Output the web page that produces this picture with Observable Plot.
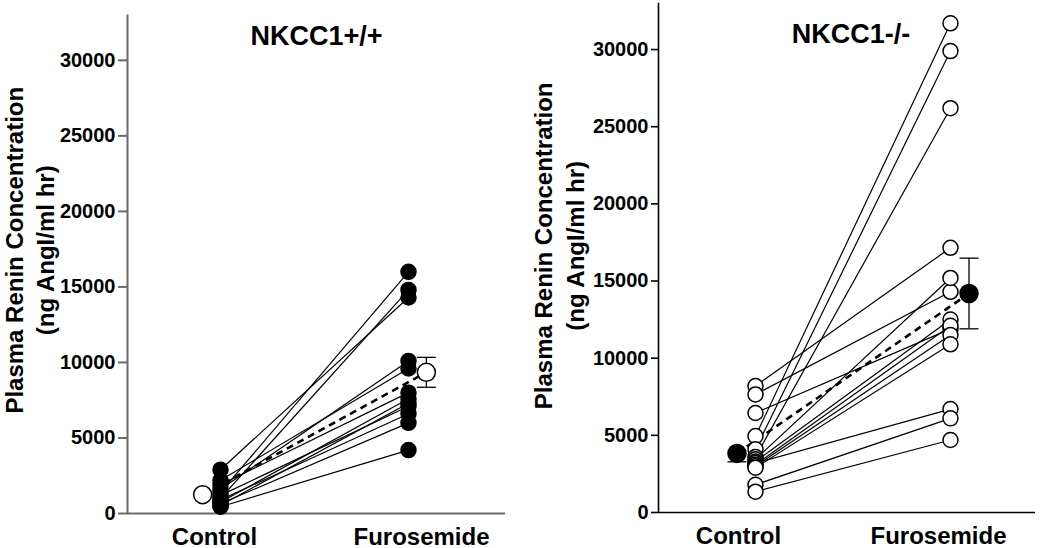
<!DOCTYPE html>
<html>
<head>
<meta charset="utf-8">
<script src="https://cdn.jsdelivr.net/npm/d3@7"></script>
<script src="https://cdn.jsdelivr.net/npm/@observablehq/plot@0.6"></script>
<style>
  html, body { margin: 0; padding: 0; background: white; overflow: hidden; }
  #chart { display: flex; width: 1050px; height: 548px; }
  #chart svg { display: block; }
  #chart svg text { font-weight: bold; }
</style>
</head>
<body>
<div id="chart"></div>
<script>
// ---- data ----
const categories = ["Control", "Furosemide"];
const panelTitles = ["NKCC1+/+", "NKCC1-/-"];
const yTitleLines = ["Plasma Renin Concentration", "(ng AngI/ml hr)"];
const yTicks = [0, 5000, 10000, 15000, 20000, 25000, 30000];

// NKCC1+/+ individual animals (control -> furosemide)
const wtControl    = [2900, 2200, 1900, 1600, 1400, 1200, 1000, 900, 750, 650, 550, 450];
const wtFurosemide = [14300, 9600, 8000, 10100, 16000, 7100, 14800, 6600, 7600, 6000, 7300, 4200];
const wtMean    = [1243, 9346];
const wtErrLow  = [0, 990];
const wtErrHigh = [0, 990];

// NKCC1-/- individual animals (control -> furosemide)
const koControl    = [8200, 7650, 6450, 4950, 4100, 3600, 3450, 3300, 3200, 3100, 3000, 2900, 1800, 1350];
const koFurosemide = [17150, 14300, 11900, 31700, 29900, 26200, 15200, 12500, 6700, 12100, 11500, 10900, 6100, 4700];
const koMean    = [3828, 14192];
const koErrLow  = [544, 2290];
const koErrHigh = [0, 2290];

const FONT = "'Liberation Sans', Arial, Helvetica, sans-serif";

function panel(cfg) {
  const width = 525, height = 548;
  const {ctrl, furo, mean, errLow, errHigh, title, filledIndiv, axisColor, axisWidth, tickSize,
         marginLeft, marginRight, marginTop, marginBottom, xDomain,
         labelDx, titleDx, titleDy, yTitleDx, yTitleDy} = cfg;
  const pairs = ctrl.map((c, i) => ({c, f: furo[i]}));
  const pxPerUnit = (width - marginLeft - marginRight) / (xDomain[1] - xDomain[0]);
  const cap = 9.5 / pxPerUnit;
  const off = 0.095;
  const means = [
    {x: 1 - off, y: mean[0], lo: errLow[0], hi: errHigh[0]},
    {x: 2 + off, y: mean[1], lo: errLow[1], hi: errHigh[1]}
  ];
  const bars = means.filter(m => m.lo > 0 || m.hi > 0);
  const caps = means.flatMap(m => [
    ...(m.lo > 0 ? [{x: m.x, y: m.y - m.lo}] : []),
    ...(m.hi > 0 ? [{x: m.x, y: m.y + m.hi}] : [])
  ]);
  const indivFill = filledIndiv ? "black" : "white";
  const meanFill = filledIndiv ? "white" : "black";
  return Plot.plot({
    width, height, marginLeft, marginRight, marginTop, marginBottom,
    style: {fontFamily: FONT, background: "white", color: "black", overflow: "visible"},
    x: {domain: xDomain, axis: null},
    y: {domain: [0, 33000], axis: null},
    marks: [
      // axis lines
      Plot.ruleX([xDomain[0]], {y1: 0, y2: 33000, stroke: axisColor, strokeWidth: axisWidth}),
      Plot.ruleY([0], {stroke: axisColor, strokeWidth: axisWidth}),
      Plot.axisY(yTicks, {
        anchor: "left", tickSize, tickPadding: 3, tickFormat: d3.format("d"),
        fontSize: 20, stroke: axisColor, strokeWidth: axisWidth, fill: "black", label: null
      }),
      Plot.axisX([1], {anchor: "bottom", tickSize: 0, tickPadding: 14, fontSize: 24,
        tickFormat: d => categories[d - 1], dx: labelDx[0], fill: "black", label: null}),
      Plot.axisX([2], {anchor: "bottom", tickSize: 0, tickPadding: 14, fontSize: 24,
        tickFormat: d => categories[d - 1], dx: labelDx[1], fill: "black", label: null}),
      // individual connecting lines
      Plot.link(pairs, {x1: () => 1, y1: "c", x2: () => 2, y2: "f", stroke: "black", strokeWidth: 1.2}),
      // mean dashed line
      Plot.link([means], {x1: d => d[0].x, y1: d => d[0].y, x2: d => d[1].x, y2: d => d[1].y,
        stroke: "black", strokeWidth: 2.6, strokeDasharray: "7,5"}),
      // error bars
      Plot.ruleX(bars, {x: "x", y1: d => d.y - d.lo, y2: d => d.y + d.hi, stroke: "black", strokeWidth: 1.3}),
      Plot.link(caps, {x1: d => d.x - cap, x2: d => d.x + cap, y1: "y", y2: "y", stroke: "black", strokeWidth: 1.3}),
      // individual points
      Plot.dot(pairs, {x: () => 1, y: "c", r: 7.5, fill: indivFill, stroke: "black", strokeWidth: 1.5}),
      Plot.dot(pairs, {x: () => 2, y: "f", r: 7.5, fill: indivFill, stroke: "black", strokeWidth: 1.5}),
      // means
      Plot.dot(means, {x: "x", y: "y", r: 9, fill: meanFill, stroke: "black", strokeWidth: 1.5}),
      // panel title
      Plot.text([title], {frameAnchor: "top", lineAnchor: "top", text: d => d, dx: titleDx, dy: titleDy,
        fontSize: 27, fill: "black"}),
      // y-axis title
      Plot.text([yTitleLines.join("\n")], {frameAnchor: "left", rotate: -90, text: d => d,
        textAnchor: "middle", lineAnchor: "middle", lineHeight: 1.3,
        dx: yTitleDx, dy: yTitleDy, fontSize: 24, fill: "black"})
    ]
  });
}

const left = panel({
  ctrl: wtControl, furo: wtFurosemide, mean: wtMean, errLow: wtErrLow, errHigh: wtErrHigh,
  title: panelTitles[0],
  filledIndiv: true, axisColor: "#6b6b6b", axisWidth: 2, tickSize: 9,
  marginLeft: 127, marginRight: 20, marginTop: 14.5, marginBottom: 35,
  xDomain: [0.5053, 2.516], labelDx: [-6, 13], titleDx: 0, titleDy: 10.5,
  yTitleDx: -99, yTitleDy: -14
});
const right = panel({
  ctrl: koControl, furo: koFurosemide, mean: koMean, errLow: koErrLow, errHigh: koErrHigh,
  title: panelTitles[1],
  filledIndiv: false, axisColor: "black", axisWidth: 1.6, tickSize: 7,
  marginLeft: 133, marginRight: 15, marginTop: 2.75, marginBottom: 36,
  xDomain: [0.5026, 2.436], labelDx: [-17, -12], titleDx: 4, titleDy: 20.5,
  yTitleDx: -100.5, yTitleDy: -12
});
document.getElementById("chart").append(left, right);
</script>
</body>
</html>
